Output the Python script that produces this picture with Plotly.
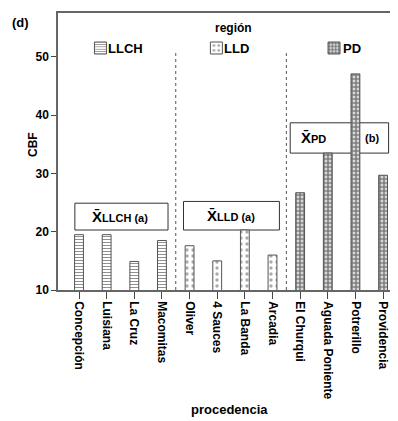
import plotly.graph_objects as go

categories = ["Concepción", "Luisiana", "La Cruz", "Macomitas",
              "Oliver", "4 Sauces", "La Banda", "Arcadia",
              "El Churqui", "Aguada Poniente", "Potrerillo", "Providencia"]
regions = ["LLCH", "LLCH", "LLCH", "LLCH", "LLD", "LLD", "LLD", "LLD",
           "PD", "PD", "PD", "PD"]
cbf = [19.5, 19.5, 14.9, 18.5, 17.6, 15.0, 20.3, 16.0, 26.7, 33.5, 47.1, 29.7]
y_ticks = [10, 20, 30, 40, 50]
region_names = ["LLCH", "LLD", "PD"]

patterns = {
    "LLCH": dict(shape="-", fgcolor="#222", bgcolor="white", size=3, solidity=0.35),
    "LLD": dict(shape=".", fgcolor="#555", bgcolor="white", size=6, solidity=0.25),
    "PD": dict(shape=".", fgcolor="black", bgcolor="white", size=4, solidity=0.75),
}

FONT = "Liberation Sans, Arial, sans-serif"

# page body has an 8px margin, so the figure is shifted; size compensates
W, H = 390, 413

legend_ids = ["legend", "legend2", "legend3"]
legend_x = [0.066, 0.407, 0.753]
text_x = [0.141, 0.482, 0.832]

fig = go.Figure()
for reg, lid in zip(region_names, legend_ids):
    xs = [c for c, r in zip(categories, regions) if r == reg]
    ys = [v for v, r in zip(cbf, regions) if r == reg]
    fig.add_trace(go.Bar(
        x=xs, y=ys, name="", width=0.32, legend=lid,
        marker=dict(color="white", pattern=patterns[reg],
                    line=dict(color="#555", width=1)),
    ))

# group separators
for xsep in [3.5, 7.5]:
    fig.add_shape(type="line", xref="x", yref="y", x0=xsep, x1=xsep, y0=10, y1=50.7,
                  line=dict(color="#555", width=1, dash="dot"))

# mean boxes
boxes = [(-0.15, 3.22, 20.3, 24.9), (3.78, 7.25, 20.3, 25.2), (7.64, 11.2, 33.5, 38.7)]
for x0, x1, y0, y1 in boxes:
    fig.add_shape(type="rect", xref="x", yref="y", x0=x0, x1=x1, y0=y0, y1=y1,
                  line=dict(color="#333", width=1), fillcolor="white", layer="below")

def ann(x, y, text, size=15, **kw):
    fig.add_annotation(x=x, y=y, xref="x", yref="y", showarrow=False, text=text,
                       font=dict(family=FONT, size=size, color="black"), **kw)

ann(1.5, 22.6, "<b>X\u0304<span style='font-size:11px'>LLCH (a)</span></b>")
ann(5.5, 22.75, "<b>X\u0304<span style='font-size:11px'>LLD (a)</span></b>")
ann(8.5, 36.1, "<b>X\u0304<span style='font-size:11px'>PD</span></b>")
ann(10.6, 36.1, "<b>(b)</b>", size=11)

def pann(x, y, text, size=13, xanchor="center", **kw):
    fig.add_annotation(x=x, y=y, xref="paper", yref="paper", xanchor=xanchor,
                       yanchor="middle", showarrow=False, text=text,
                       font=dict(family=FONT, size=size, color="black"), **kw)

pann(-0.141, 0.9675, "<b>(d)</b>", xanchor="left")
pann(0.5176, 0.946, "<b>región</b>", size=12)
for reg, tx in zip(region_names, text_x):
    pann(tx, 0.8736, "<b>" + reg + "</b>", size=13, xanchor="left")
pann(-0.0735, 0.5235, "<b>CBF</b>", size=12, textangle=-90)
pann(0.503, -0.433, "<b>procedencia</b>", size=13)

legend_common = dict(orientation="v", xref="paper", yref="paper",
                     xanchor="left", yanchor="middle", y=0.8736,
                     bgcolor="rgba(0,0,0,0)", itemwidth=30,
                     font=dict(family=FONT, size=12, color="black"))

fig.update_layout(
    width=W, height=H,
    margin=dict(l=50, r=0, t=5, b=131),
    plot_bgcolor="white", paper_bgcolor="white",
    font=dict(family=FONT, size=12, color="black"),
    showlegend=True,
    legend=dict(x=legend_x[0], **legend_common),
    legend2=dict(x=legend_x[1], **legend_common),
    legend3=dict(x=legend_x[2], **legend_common),
    xaxis=dict(
        type="category", categoryorder="array", categoryarray=categories,
        tickvals=categories, ticktext=["<b>" + c + "</b>" for c in categories],
        range=[-0.76, 11.54], tickangle=90, automargin=False,
        showline=True, linecolor="#666", linewidth=1.5, mirror=True,
        ticks="outside", ticklen=7, tickcolor="#444",
        tickfont=dict(family=FONT, size=12, color="black"),
    ),
    yaxis=dict(
        range=[10, 57.55], tickvals=y_ticks, ticktext=["<b>%d</b>" % t for t in y_ticks],
        showgrid=False, zeroline=False, automargin=False,
        showline=True, linecolor="#666", linewidth=1.5,
        ticks="outside", ticklen=5, tickcolor="#444",
        tickfont=dict(family=FONT, size=12, color="black"),
    ),
)

fig.write_html("out.html")
